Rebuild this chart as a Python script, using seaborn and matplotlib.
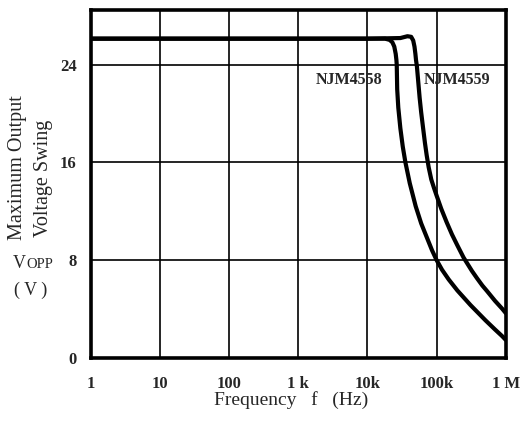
import numpy as np
import pandas as pd
import seaborn as sns
import matplotlib.pyplot as plt

# Values (frequency in Hz, swing in Vp-p)
freq_4558 = [1, 10, 100, 1e3, 1e4, 18e3, 21e3, 23e3, 24.5e3, 25.7e3, 26.3e3, 26.6e3,
             27e3, 28e3, 30e3, 32.5e3, 35.5e3, 41e3, 50e3, 60e3, 73e3, 86e3, 100e3,
             120e3, 150e3, 200e3, 310e3, 510e3, 700e3, 890e3, 1e6]
volt_4558 = [26.15, 26.15, 26.15, 26.15, 26.15, 26.15, 26.05, 25.85, 25.5, 24.9, 24.4, 24.0,
             22.0, 20.5, 18.8, 17.3, 16.0, 14.3, 12.4, 11.0, 9.8, 8.8, 8.0,
             7.2, 6.4, 5.5, 4.3, 3.05, 2.3, 1.75, 1.45]

freq_4559 = [1, 10, 100, 1e3, 1e4, 30e3, 38e3, 43e3, 46e3, 48e3, 49.5e3, 50.5e3, 52e3,
             57e3, 60e3, 64e3, 68e3, 72e3, 77e3, 84e3, 92e3, 100e3, 117e3, 140e3, 167e3,
             200e3, 246e3, 325e3, 385e3, 460e3, 537e3, 700e3, 890e3, 1e6]
volt_4559 = [26.15, 26.15, 26.15, 26.15, 26.15, 26.2, 26.35, 26.3, 26.0, 25.5, 24.9, 24.4, 23.9,
             21.3, 20.1, 18.8, 17.6, 16.6, 15.6, 14.6, 13.9, 13.3, 12.2, 11.1, 10.1,
             9.2, 8.2, 7.1, 6.5, 5.9, 5.45, 4.65, 4.0, 3.65]

x_ticks = [1, 10, 100, 1e3, 1e4, 1e5, 1e6]
x_labels = ['1', '10', '100', '1 k', '10k', '100k', '1 M']
y_ticks = [0, 8, 16, 24]

sns.set_style('white')
plt.rcParams['font.family'] = ['Liberation Serif', 'DejaVu Serif']

fig = plt.figure(figsize=(5.26, 4.24), dpi=100)
ax = fig.add_axes([0.1724, 0.1568, 0.789, 0.8196])

df_a = pd.DataFrame({'f': freq_4558, 'v': volt_4558})
df_b = pd.DataFrame({'f': freq_4559, 'v': volt_4559})
sns.lineplot(data=df_a, x='f', y='v', ax=ax, color='black', lw=3, sort=False, estimator=None)
sns.lineplot(data=df_b, x='f', y='v', ax=ax, color='black', lw=3, sort=False, estimator=None)

ax.set_xscale('log')
ax.set_xlim(1, 1e6)
ax.set_ylim(0, 28.5)
ax.set_xticks(x_ticks)
ax.set_xticklabels(x_labels, fontweight='bold', fontsize=12)
ax.set_yticks(y_ticks)
ax.set_yticklabels([str(t) for t in y_ticks], fontweight='bold', fontsize=12)
ax.minorticks_off()
ax.tick_params(axis='x', length=0, pad=13)
ax.tick_params(axis='y', length=0, pad=10)
ax.set_xlabel('')
ax.set_ylabel('')

ax.grid(True, color='black', lw=1.2)
for s in ax.spines.values():
    s.set_visible(True)
    s.set_color('black')
    s.set_linewidth(2.6)

# curve labels
ax.text(16.5e3, 22.8, 'NJM4558', ha='right', va='center', fontsize=11.5, fontweight='bold')
ax.text(66e3, 22.8, 'NJM4559', ha='left', va='center', fontsize=11.5, fontweight='bold')

# axis titles
fig.text(0.034, 0.434, 'Maximum Output', rotation=90, ha='center', va='bottom', fontsize=14.5)
fig.text(0.082, 0.441, 'Voltage Swing', rotation=90, ha='center', va='bottom', fontsize=14.5)
fig.text(13 / 526, 0.368, 'V', ha='left', va='baseline', fontsize=13)
fig.text(26 / 526, 0.368, 'OPP', ha='left', va='baseline', fontsize=10.5)
fig.text(31 / 526, 0.316, '( V )', ha='center', va='center', fontsize=13)
fig.text(0.553, 0.057, 'Frequency   f   (Hz)', ha='center', va='center', fontsize=14)

fig.savefig('out.png', dpi=100)
